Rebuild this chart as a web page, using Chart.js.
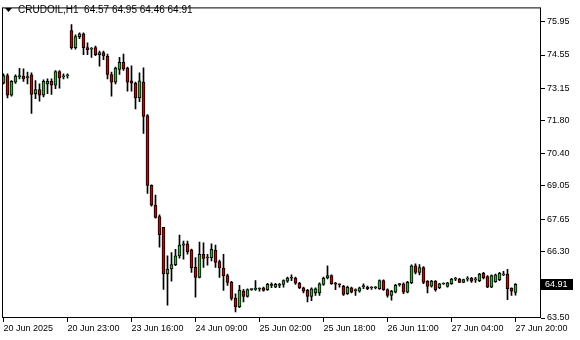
<!DOCTYPE html>
<html><head><meta charset="utf-8">
<script src="https://cdn.jsdelivr.net/npm/chart.js@4.4.1/dist/chart.umd.min.js"></script>
<style>html,body{margin:0;padding:0;background:#fff;}#wrap{width:580px;height:340px;}</style>
</head><body><div id="wrap"><canvas id="c" width="580" height="340"></canvas></div>
<script>
const chartTitle = "CRUDOIL,H1";
const titleValues = "64.57 64.95 64.46 64.91";
const opens = [73.37,73.69,72.86,73.41,73.64,73.66,73.60,73.72,72.93,73.10,72.86,73.34,73.44,73.28,73.85,73.63,73.67,
75.58,74.86,75.32,75.44,74.86,74.80,74.86,74.56,74.65,74.49,73.73,73.41,73.94,74.24,74.00,73.46,73.37,72.75,73.41,
72.01,69.07,68.24,67.76,67.31,65.35,65.56,65.74,66.11,66.56,66.62,66.36,65.63,65.21,66.18,66.02,66.04,66.34,65.87,65.60,65.28,65.00,64.34,63.97,
64.63,64.41,64.69,64.70,64.72,64.77,64.69,64.91,64.80,64.87,64.91,65.05,65.17,65.18,64.96,64.77,64.66,64.41,64.55,64.55,64.91,65.18,
65.28,64.94,64.91,64.84,64.52,64.77,64.65,64.63,64.82,64.80,64.76,64.77,64.73,65.07,64.69,64.45,64.59,64.90,64.94,64.59,64.98,65.69,
65.42,65.62,65.05,64.84,65.05,64.77,64.93,64.83,64.94,65.13,65.14,65.00,65.13,65.18,65.10,65.07,65.38,65.24,64.80,65.03,65.11,65.31,65.35,64.76,64.57];
const highs = [73.76,73.76,73.48,73.72,73.99,73.97,73.83,73.80,73.48,73.34,73.51,73.55,73.55,73.90,73.90,73.76,73.76,
75.83,75.40,75.48,75.48,75.06,74.86,74.93,74.72,74.72,74.59,73.83,74.04,74.45,74.59,74.04,74.10,73.41,73.80,74.01,
72.05,69.10,68.66,67.83,67.31,66.11,66.25,66.38,66.98,66.73,66.73,66.40,66.04,66.69,66.66,66.18,66.62,66.56,65.93,66.18,65.35,65.04,64.52,64.87,
64.70,64.73,64.73,65.07,64.77,64.80,64.96,64.98,64.96,64.96,65.10,65.22,65.31,65.22,65.00,64.80,64.70,64.77,64.77,64.98,65.22,65.69,
65.31,65.00,64.94,64.87,64.84,64.80,64.73,64.80,64.94,64.84,64.82,64.82,65.10,65.10,64.73,64.66,64.91,64.96,64.98,65.04,65.73,65.78,
65.74,65.66,65.07,65.08,65.07,64.96,64.98,65.00,65.17,65.21,65.17,65.14,65.24,65.21,65.21,65.38,65.42,65.28,65.31,65.35,65.42,65.46,65.55,64.77,64.95];
const lows = [73.33,72.75,72.82,73.36,73.55,73.44,73.34,72.10,72.72,72.61,72.79,72.93,72.89,73.14,73.16,73.55,73.58,
74.79,74.79,75.24,74.56,74.56,74.45,74.52,74.08,74.35,73.55,72.82,73.34,73.73,73.90,73.03,73.03,72.28,72.59,71.25,
68.73,68.20,67.69,66.48,64.70,64.04,65.05,65.70,66.01,65.97,66.18,65.42,64.38,65.18,65.63,65.72,65.90,65.63,65.21,64.66,64.87,64.25,63.76,63.93,
64.18,64.38,64.66,64.66,64.63,64.63,64.66,64.77,64.77,64.77,64.80,65.00,65.07,64.91,64.73,64.55,64.18,64.23,64.45,64.45,64.87,65.14,
64.91,64.69,64.80,64.45,64.49,64.55,64.45,64.59,64.73,64.69,64.70,64.72,64.70,64.66,64.38,64.25,64.55,64.84,64.52,64.55,64.94,65.35,
65.31,64.94,64.55,64.80,64.63,64.73,64.91,64.80,64.91,65.07,64.98,64.98,65.05,65.00,65.00,65.03,65.14,64.77,64.77,65.00,65.07,65.28,64.27,64.45,64.46];
const closes = [73.69,72.86,73.44,73.66,73.66,73.55,73.63,72.89,73.10,72.86,73.44,73.44,73.28,73.85,73.59,73.66,73.68,
74.86,75.32,75.44,74.86,74.77,74.82,74.56,74.65,74.51,73.73,73.41,74.00,74.24,73.97,73.41,73.37,72.75,73.46,71.97,
69.07,68.24,67.73,67.00,65.35,65.56,65.74,66.11,66.56,66.62,66.29,65.60,65.21,66.18,66.00,66.04,66.38,65.83,65.60,65.28,65.00,64.32,63.97,64.66,
64.41,64.69,64.70,64.71,64.73,64.66,64.91,64.87,64.91,64.88,65.07,65.18,65.18,64.96,64.77,64.63,64.41,64.73,64.73,64.94,65.18,65.28,
64.94,64.92,64.89,64.49,64.80,64.59,64.66,64.77,64.83,64.73,64.77,64.78,65.07,64.69,64.45,64.63,64.87,64.91,64.59,65.00,65.69,65.42,
65.62,65.00,64.83,65.05,64.69,64.94,64.94,64.98,65.14,65.14,65.00,65.11,65.14,65.05,65.11,65.35,65.18,64.80,65.28,65.31,65.38,65.36,64.73,64.63,64.91];
const timeLabels = ["20 Jun 2025","20 Jun 23:00","23 Jun 16:00","24 Jun 09:00","25 Jun 02:00","25 Jun 18:00","26 Jun 11:00","27 Jun 04:00","27 Jun 20:00"];
const timeLabelBars = [0,16,32,48,64,80,96,112,128];
const priceTicks = [75.95,74.55,73.15,71.80,70.40,69.05,67.65,66.30,63.50];
const lastPrice = 64.91;

const UP = '#2fb52f', DOWN = '#d10000';
const FONT = {family:'"Liberation Sans", Arial, sans-serif', size:9};
const bars = opens.map((_, i) => i);

const framePlugin = {
  id: 'mtframe',
  afterDraw(chart) {
    const {ctx, chartArea: a, scales} = chart;
    ctx.save();
    ctx.strokeStyle = '#000'; ctx.lineWidth = 1;
    ctx.strokeRect(a.left + 0.5, a.top + 0.5, a.right - a.left - 1, a.bottom - a.top - 1);
    ctx.fillStyle = '#000';
    ctx.beginPath(); ctx.moveTo(5, 8); ctx.lineTo(12, 8); ctx.lineTo(8.5, 12); ctx.closePath(); ctx.fill();
    ctx.font = '10px "Liberation Sans", Arial, sans-serif';
    ctx.textBaseline = 'middle'; ctx.textAlign = 'left';
    ctx.fillText(chartTitle + '  ' + titleValues, 18, 10.5);
    const y = Math.round(scales.y.getPixelForValue(lastPrice));
    ctx.fillStyle = '#000';
    ctx.fillRect(a.right - 1, y - 5, 33, 11);
    ctx.fillStyle = '#fff';
    ctx.font = '9px "Liberation Sans", Arial, sans-serif';
    ctx.fillText(lastPrice.toFixed(2), a.right + 4, y + 0.5);
    ctx.restore();
  }
};

new Chart(document.getElementById('c'), {
  type: 'bar',
  data: {
    datasets: [
      {
        label: 'wick',
        data: bars.map(i => ({x: i, y: [lows[i], highs[i]]})),
        backgroundColor: '#000', borderWidth: 0,
        barThickness: 1, grouped: false, order: 2
      },
      {
        label: 'body',
        data: bars.map(i => ({x: i, y: [opens[i], closes[i]]})),
        backgroundColor: c => closes[c.dataIndex] >= opens[c.dataIndex] ? UP : DOWN,
        borderColor: '#000', borderWidth: 1, borderSkipped: false,
        barThickness: 3, minBarLength: 1, grouped: false, order: 1
      }
    ]
  },
  options: {
    responsive: false, animation: false, devicePixelRatio: 1,
    layout: {padding: {left: 2, top: 3, right: 0, bottom: 0}},
    plugins: {legend: {display: false}, tooltip: {enabled: false}},
    scales: {
      x: {
        type: 'linear', position: 'bottom', min: -0.375, max: 134.375, offset: false,
        afterFit: s => { s.height = 22; },
        afterBuildTicks: s => { s.ticks = timeLabelBars.map(v => ({value: v})); },
        ticks: {autoSkip: false, maxRotation: 0, align: 'start', padding: 1, color: '#000', font: FONT,
          callback: (v, i) => timeLabels[i]},
        grid: {drawOnChartArea: false, drawTicks: true, tickLength: 4, color: '#000', offset: false},
        border: {display: false}
      },
      y: {
        type: 'linear', position: 'right', min: 63.50, max: 76.55,
        afterFit: s => { s.width = 39; },
        afterBuildTicks: s => { s.ticks = priceTicks.map(v => ({value: v})); },
        ticks: {padding: 2, color: '#000', font: FONT, callback: v => Number(v).toFixed(2)},
        grid: {drawOnChartArea: false, drawTicks: true, tickLength: 4, color: '#000'},
        border: {display: false}
      }
    }
  },
  plugins: [framePlugin]
});
</script></body></html>
